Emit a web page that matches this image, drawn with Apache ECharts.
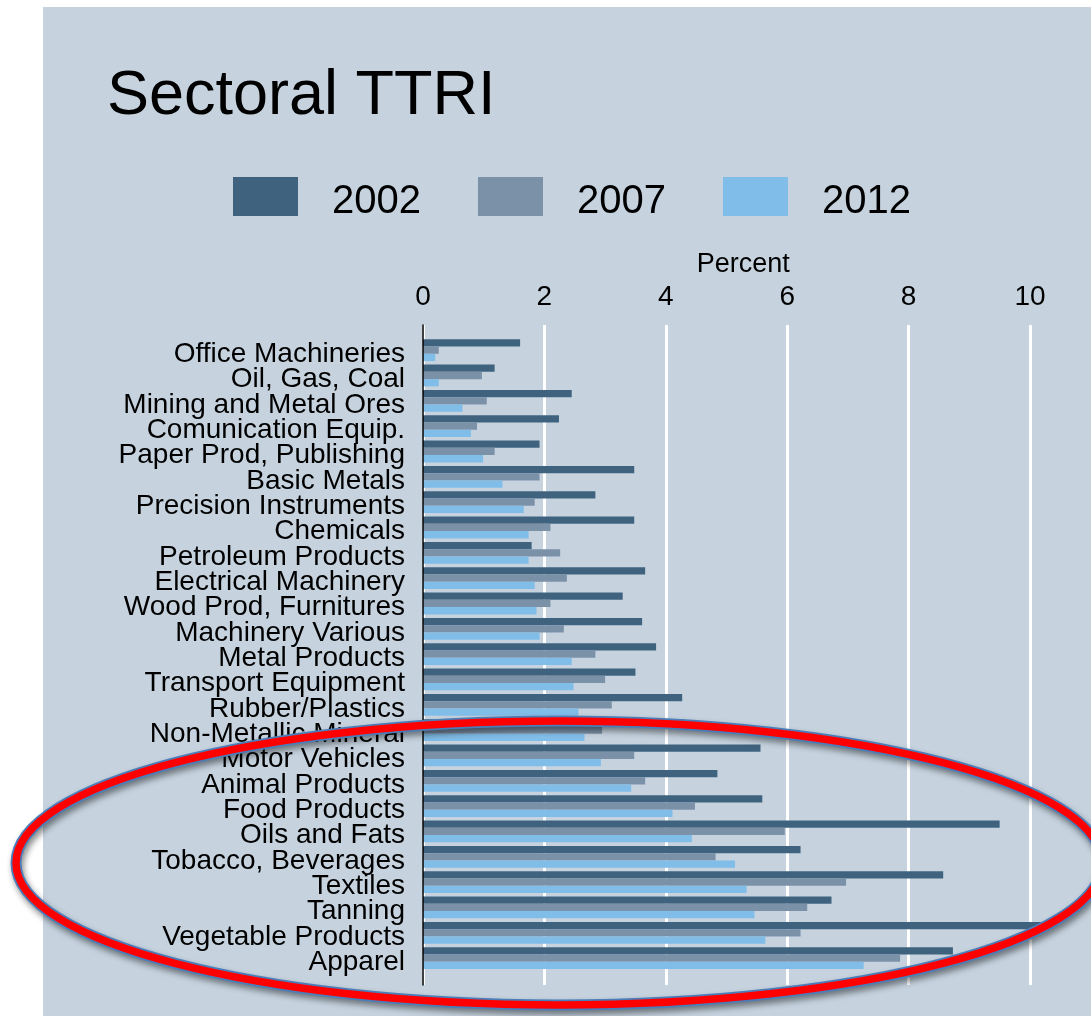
<!DOCTYPE html>
<html>
<head>
<meta charset="utf-8">
<title>Sectoral TTRI</title>
<script src="https://cdn.jsdelivr.net/npm/echarts@6/dist/echarts.min.js"></script>
<style>
  html, body { margin: 0; padding: 0; background: #ffffff; }
  #chart { width: 1091px; height: 1016px; }
</style>
</head>
<body>
<div id="chart"></div>
<script>
// Sectors, top to bottom
const categories = [
  'Office Machineries', 'Oil, Gas, Coal', 'Mining and Metal Ores', 'Comunication Equip.',
  'Paper Prod, Publishing', 'Basic Metals', 'Precision Instruments', 'Chemicals',
  'Petroleum Products', 'Electrical Machinery', 'Wood Prod, Furnitures', 'Machinery Various',
  'Metal Products', 'Transport Equipment', 'Rubber/Plastics', 'Non-Metallic Mineral',
  'Motor Vehicles', 'Animal Products', 'Food Products', 'Oils and Fats',
  'Tobacco, Beverages', 'Textiles', 'Tanning', 'Vegetable Products', 'Apparel'
];

// TTRI by sector, percent
const ttri2002 = [1.60, 1.18, 2.45, 2.24, 1.92, 3.48, 2.84, 3.48, 1.79, 3.66, 3.29, 3.61, 3.84,
                  3.50, 4.27, 4.30, 5.56, 4.85, 5.59, 9.50, 6.22, 8.57, 6.73, 10.33, 8.73];
const ttri2007 = [0.26, 0.97, 1.05, 0.89, 1.18, 1.92, 1.84, 2.10, 2.26, 2.37, 2.10, 2.32, 2.84,
                  3.00, 3.11, 2.95, 3.48, 3.66, 4.48, 5.96, 4.82, 6.97, 6.33, 6.22, 7.86];
const ttri2012 = [0.20, 0.26, 0.65, 0.79, 0.99, 1.31, 1.66, 1.74, 1.74, 1.84, 1.87, 1.92, 2.45,
                  2.48, 2.56, 2.66, 2.93, 3.43, 4.11, 4.43, 5.14, 5.33, 5.46, 5.64, 7.26];

const years = ['2002', '2007', '2012'];
const xTicks = { min: 0, max: 12, interval: 2 };

const FONT = '"Liberation Sans", Arial, sans-serif';
const colors = ['#3f637e', '#7b91a8', '#80bde8'];

const chart = echarts.init(document.getElementById('chart'), null, { renderer: 'canvas' });

const plotLeft = 423;
const plotWidth = 60.7 * xTicks.max;

const option = {
  backgroundColor: '#c6d3df',
  animation: false,
  color: colors,
  textStyle: { fontFamily: FONT },
  title: {
    text: 'Sectoral TTRI',
    left: 107,
    top: 65,
    padding: 0,
    textStyle: { fontFamily: FONT, fontSize: 63, fontWeight: 'normal', color: '#000' }
  },
  legend: {
    data: years,
    left: 233,
    top: 177,
    padding: 0,
    icon: 'rect',
    itemWidth: 65,
    itemHeight: 39,
    itemGap: 57,
    formatter: '{t|{name}}',
    textStyle: {
      fontFamily: FONT, fontSize: 40, color: '#000',
      rich: {
        t: { fontFamily: FONT, fontSize: 40, color: '#000', padding: [10, 0, 0, 29] }
      }
    }
  },
  grid: [
    // bar band area
    { left: plotLeft, top: 337.5, width: plotWidth, height: 633.3, outerBoundsMode: 'none', containLabel: false },
    // frame for the axis line and gridlines
    { left: plotLeft, top: 325, width: plotWidth, height: 660, outerBoundsMode: 'none', containLabel: false }
  ],
  xAxis: [
    {
      gridIndex: 0, type: 'value',
      min: xTicks.min, max: xTicks.max, interval: xTicks.interval,
      show: false
    },
    {
      gridIndex: 1, type: 'value', position: 'top',
      min: xTicks.min, max: xTicks.max, interval: xTicks.interval,
      name: 'Percent', nameLocation: 'middle', nameGap: 45,
      nameTextStyle: { fontFamily: FONT, fontSize: 27, color: '#000', padding: [0, 88, 0, 0] },
      axisLine: { show: false },
      axisTick: { show: false },
      axisLabel: { fontFamily: FONT, fontSize: 28, color: '#000', margin: 14 },
      splitLine: { show: true, lineStyle: { color: '#ffffff', width: 3 } }
    }
  ],
  yAxis: [
    {
      gridIndex: 0, type: 'category', data: categories, inverse: true,
      axisLine: { show: false },
      axisTick: { show: false },
      splitLine: { show: false },
      axisLabel: {
        fontFamily: FONT, fontSize: 28, color: '#000', margin: 18, interval: 0,
        verticalAlign: 'top', lineHeight: 8
      }
    },
    {
      gridIndex: 1, type: 'value', min: 0, max: 1, z: 5,
      axisLine: { show: true, onZero: false, lineStyle: { color: '#000', width: 1.5 } },
      axisTick: { show: false },
      axisLabel: { show: false },
      splitLine: { show: false }
    }
  ],
  series: [
    { name: years[0], type: 'bar', xAxisIndex: 0, yAxisIndex: 0, data: ttri2002, barGap: '0%', barCategoryGap: '14%' },
    { name: years[1], type: 'bar', xAxisIndex: 0, yAxisIndex: 0, data: ttri2007, barGap: '0%', barCategoryGap: '14%' },
    { name: years[2], type: 'bar', xAxisIndex: 0, yAxisIndex: 0, data: ttri2012, barGap: '0%', barCategoryGap: '14%' }
  ],
  graphic: [
    // white page margin around the panel
    { type: 'rect', z: 1, shape: { x: 0, y: 0, width: 43, height: 1016 }, style: { fill: '#ffffff' } },
    { type: 'rect', z: 1, shape: { x: 0, y: 0, width: 1091, height: 7 }, style: { fill: '#ffffff' } },
    // highlight ring round the most protected sectors
    {
      type: 'ellipse', z: 100,
      shape: { cx: 559, cy: 863, rx: 543, ry: 142 },
      style: {
        fill: 'none', stroke: '#4a7ebb', lineWidth: 11,
        shadowColor: 'rgba(0,0,0,0.45)', shadowBlur: 6, shadowOffsetX: 2, shadowOffsetY: 4
      }
    },
    {
      type: 'ellipse', z: 101,
      shape: { cx: 559, cy: 863, rx: 543, ry: 142 },
      style: { fill: 'none', stroke: '#ff0000', lineWidth: 7.5 }
    }
  ]
};

chart.setOption(option);
</script>
</body>
</html>
